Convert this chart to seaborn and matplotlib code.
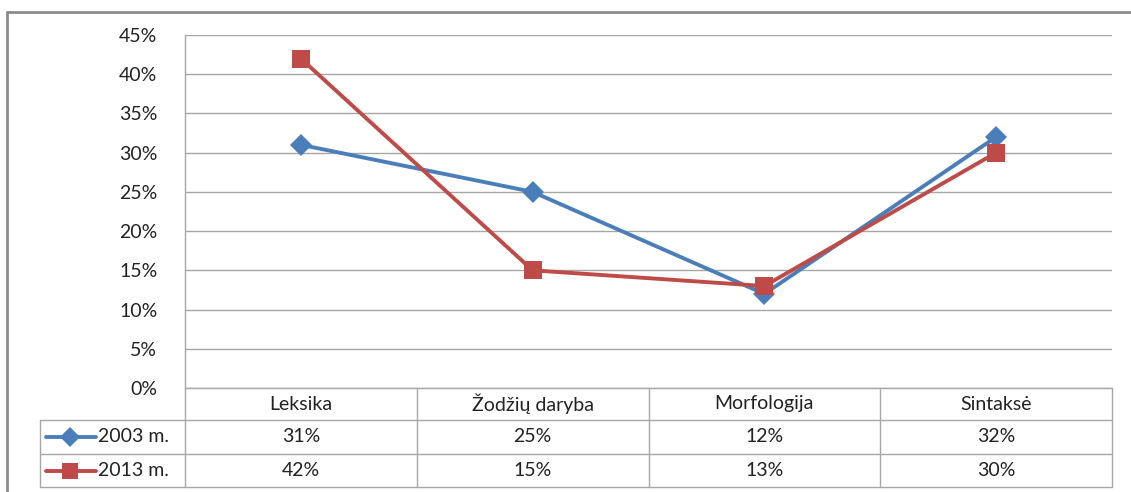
import numpy as np
import pandas as pd
import matplotlib
matplotlib.use("Agg")
import matplotlib.pyplot as plt
import matplotlib.transforms as mtransforms
from matplotlib.lines import Line2D
from matplotlib.ticker import FuncFormatter
import seaborn as sns

categories = ["Leksika", "Žodžių daryba", "Morfologija", "Sintaksė"]
series_labels = ["2003 m.", "2013 m."]
values_2003 = [31, 25, 12, 32]
values_2013 = [42, 15, 13, 30]
y_ticks = [0, 5, 10, 15, 20, 25, 30, 35, 40, 45]

colors = {"2003 m.": "#4a7ebb", "2013 m.": "#be4b48"}
markers = {"2003 m.": "D", "2013 m.": "s"}
msizes = {"D": 11, "s": 13}

sns.set_theme(style="white")
plt.rcParams["font.family"] = ["Lato", "DejaVu Sans"]

W, H = 1131, 492
fig = plt.figure(figsize=(W / 100, H / 100), dpi=100)

ov = fig.add_axes([0, 0, 1, 1], zorder=0)
ov.set_xlim(0, W)
ov.set_ylim(H, 0)
ov.axis("off")

ov.plot([7, 7], [12, H + 5], color="#8c8c8c", lw=2)
ov.plot([7, W + 5], [12, 12], color="#8c8c8c", lw=2)

x0, x1, y0, y1 = 185, 1112, 35, 388
ax = fig.add_axes([x0 / W, 1 - y1 / H, (x1 - x0) / W, (y1 - y0) / H], zorder=2)
ax.patch.set_alpha(0)

df = pd.DataFrame({
    "Kategorija": categories * 2,
    "Reikšmė": values_2003 + values_2013,
    "Metai": [series_labels[0]] * 4 + [series_labels[1]] * 4,
})
df["pos"] = df["Kategorija"].map({c: i for i, c in enumerate(categories)})

sns.lineplot(data=df, x="pos", y="Reikšmė", hue="Metai", style="Metai",
             palette=colors, markers=markers, dashes=False, lw=2.8,
             markersize=11, markeredgewidth=0, legend=False, ax=ax, sort=False)
for line in ax.get_lines():
    m = line.get_marker()
    if m in msizes:
        line.set_markersize(msizes[m])

ax.set_xlim(-0.5, len(categories) - 0.5)
ax.set_ylim(0, 45)
ax.set_yticks(y_ticks)
ax.yaxis.set_major_formatter(FuncFormatter(lambda v, p: f"{int(v)}%"))
ax.set_xticks([])
ax.set_xlabel("")
ax.set_ylabel("")
ax.grid(axis="y", color="#a6a6a6", lw=1)
ax.set_axisbelow(True)
for s in ["top", "right", "bottom"]:
    ax.spines[s].set_visible(False)
ax.spines["left"].set_color("#a6a6a6")
ax.spines["left"].set_linewidth(1)
fs = 14
ax.tick_params(axis="y", length=0, pad=20, labelsize=fs, labelcolor="#222222")

tr = mtransforms.blended_transform_factory(ax.transData, ov.transData)
rows = [388, 420, 454, 487]
lc = "#a6a6a6"
n = len(categories)
edges = np.arange(n + 1) - 0.5
for e in edges:
    ov.plot([e, e], [rows[0], rows[-1]], color=lc, lw=1, transform=tr)
for r in rows[1:]:
    ov.plot([40, x1], [r, r], color=lc, lw=1)
ov.plot([x0, x1], [rows[0], rows[0]], color=lc, lw=1)
ov.plot([40, 40], [rows[1], rows[-1]], color=lc, lw=1)

for i, c in enumerate(categories):
    ov.text(i, (rows[0] + rows[1]) / 2, c, transform=tr, ha="center", va="center",
            fontsize=fs, color="#222222")
for ri, (lab, vals) in enumerate(zip(series_labels, [values_2003, values_2013])):
    yc = (rows[ri + 1] + rows[ri + 2]) / 2
    for i, v in enumerate(vals):
        ov.text(i, yc, f"{v}%", transform=tr, ha="center", va="center",
                fontsize=fs, color="#222222")
    ov.add_line(Line2D([46, 96], [yc, yc], color=colors[lab], lw=2.8))
    ov.add_line(Line2D([70], [yc], marker=markers[lab], color=colors[lab],
                       markersize=msizes[markers[lab]] - 1,
                       markeredgewidth=0))
    ov.text(98, yc, lab, ha="left", va="center", fontsize=fs, color="#222222")

fig.savefig("out.png", dpi=100)
